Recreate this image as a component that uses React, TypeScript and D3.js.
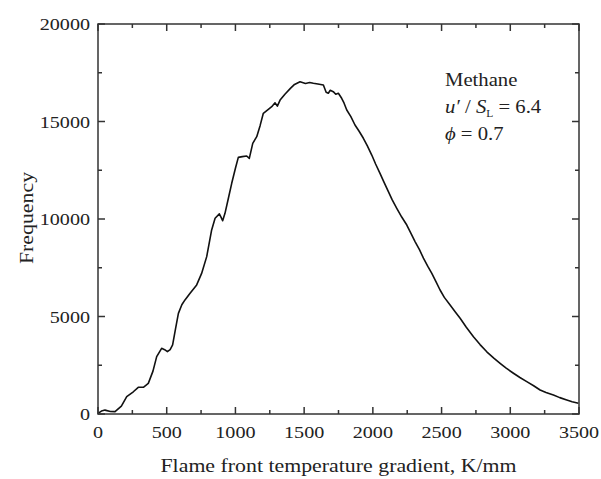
import React from "react";
import * as d3 from "d3";

const gradX: number[] = [0, 25, 51, 90, 124, 170, 209, 257, 293, 330, 366, 400, 427, 463, 485, 505, 525, 543, 565, 585, 610, 633, 670, 718, 754, 791, 827, 852, 883, 895, 907, 924, 950, 973, 1000, 1021, 1050, 1082, 1101, 1126, 1155, 1180, 1203, 1235, 1264, 1288, 1305, 1325, 1360, 1400, 1430, 1470, 1510, 1540, 1567, 1600, 1640, 1660, 1676, 1690, 1712, 1730, 1749, 1773, 1790, 1810, 1840, 1870, 1900, 1931, 1960, 1992, 2020, 2052, 2080, 2113, 2140, 2174, 2210, 2247, 2280, 2307, 2340, 2368, 2400, 2429, 2460, 2489, 2520, 2562, 2600, 2635, 2680, 2732, 2780, 2829, 2880, 2926, 2970, 3023, 3070, 3120, 3170, 3217, 3260, 3314, 3360, 3411, 3450, 3496];
const frequency: number[] = [30, 150, 200, 130, 120, 400, 890, 1140, 1370, 1370, 1570, 2200, 2940, 3370, 3300, 3200, 3300, 3540, 4400, 5160, 5600, 5850, 6190, 6620, 7210, 8070, 9440, 10040, 10260, 10100, 9910, 10290, 11100, 11830, 12600, 13160, 13200, 13230, 13110, 13880, 14220, 14800, 15420, 15600, 15760, 15960, 15790, 16100, 16400, 16700, 16900, 17040, 16950, 17000, 16960, 16920, 16870, 16500, 16450, 16600, 16530, 16400, 16450, 16190, 15950, 15590, 15250, 14820, 14500, 14140, 13750, 13280, 12820, 12340, 11900, 11400, 10990, 10550, 10100, 9690, 9220, 8840, 8420, 7990, 7570, 7210, 6780, 6360, 5980, 5590, 5230, 4910, 4450, 3960, 3560, 3190, 2870, 2600, 2350, 2090, 1870, 1660, 1450, 1230, 1100, 970, 840, 720, 630, 550];

const xTicks: number[] = [0, 500, 1000, 1500, 2000, 2500, 3000, 3500];
const yTicks: number[] = [0, 5000, 10000, 15000, 20000];
const xMinor: number[] = [250, 750, 1250, 1750, 2250, 2750, 3250];
const yMinor: number[] = [2500, 7500, 12500, 17500];

const W = 601, H = 479;
const L = 98, R = 579, T = 24, B = 414;
const FONT = "'Liberation Serif', 'Times New Roman', serif";

export default function App() {
  const x = d3.scaleLinear().domain([0, 3500]).range([L, R]);
  const y = d3.scaleLinear().domain([0, 20000]).range([B, T]);
  const pts: [number, number][] = gradX.map((g, i) => [g, frequency[i]]);
  const line = d3.line<[number, number]>().x(d => x(d[0])).y(d => y(d[1]));
  const major = 7, minor = 4;
  const sx = 1.15;
  const txt = (cx: number, cy: number, s: string, anchor: string, size: number, key?: string) => (
    <g key={key} transform={`translate(${cx},${cy}) scale(${sx},1)`}>
      <text x={0} y={0} textAnchor={anchor as any} fontSize={size} fontFamily={FONT} fill="#222">{s}</text>
    </g>
  );
  return (
    <svg width={W} height={H} style={{ position: "absolute", left: 0, top: 0, background: "#fff" }}>
      <rect x={0} y={0} width={W} height={H} fill="#fff" />
      <path d={line(pts) || ""} fill="none" stroke="#111" strokeWidth={1.6} strokeLinejoin="round" />
      <rect x={L} y={T} width={R - L} height={B - T} fill="none" stroke="#333" strokeWidth={1.5} />
      {xTicks.map(t => (
        <g key={"xt" + t}>
          <line x1={x(t)} x2={x(t)} y1={B} y2={B - major} stroke="#333" strokeWidth={1.5} />
          <line x1={x(t)} x2={x(t)} y1={T} y2={T + major} stroke="#333" strokeWidth={1.5} />
          {txt(x(t), B + 24, String(t), "middle", 17.5)}
        </g>
      ))}
      {xMinor.map(t => (
        <g key={"xm" + t}>
          <line x1={x(t)} x2={x(t)} y1={B} y2={B - minor} stroke="#333" strokeWidth={1.5} />
          <line x1={x(t)} x2={x(t)} y1={T} y2={T + minor} stroke="#333" strokeWidth={1.5} />
        </g>
      ))}
      {yTicks.map(t => (
        <g key={"yt" + t}>
          <line x1={L} x2={L + major} y1={y(t)} y2={y(t)} stroke="#333" strokeWidth={1.5} />
          <line x1={R} x2={R - major} y1={y(t)} y2={y(t)} stroke="#333" strokeWidth={1.5} />
          {txt(L - 8, y(t) + 6, String(t), "end", 17.5)}
        </g>
      ))}
      {yMinor.map(t => (
        <g key={"ym" + t}>
          <line x1={L} x2={L + minor} y1={y(t)} y2={y(t)} stroke="#333" strokeWidth={1.5} />
          <line x1={R} x2={R - minor} y1={y(t)} y2={y(t)} stroke="#333" strokeWidth={1.5} />
        </g>
      ))}
      {txt((L + R) / 2, 472, "Flame front temperature gradient, K/mm", "middle", 19)}
      <g transform={`translate(33,218) rotate(-90) scale(1.15,1)`}>
        <text x={0} y={0} textAnchor="middle" fontSize={19} fontFamily={FONT} fill="#222">Frequency</text>
      </g>
      <g transform={`translate(445,86) scale(${sx},1)`} fontFamily={FONT} fill="#222" fontSize={18}>
        <text x={0} y={0}>Methane</text>
        <text x={0} y={27}>
          <tspan fontStyle="italic">u′</tspan>
          <tspan> / </tspan>
          <tspan fontStyle="italic">S</tspan>
          <tspan fontSize={10} dy={4}>L</tspan>
          <tspan dy={-4}> = 6.4</tspan>
        </text>
        <text x={0} y={54}>
          <tspan fontStyle="italic">ϕ</tspan>
          <tspan> = 0.7</tspan>
        </text>
      </g>
    </svg>
  );
}
